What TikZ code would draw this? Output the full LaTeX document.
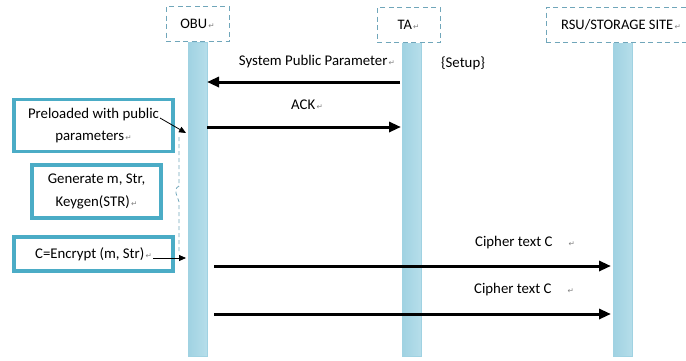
\documentclass[tikz,border=0pt]{standalone}
\usepackage{fontspec}
\setmainfont{Carlito}
\newfontfamily\symfont{DejaVu Sans}
\usetikzlibrary{arrows.meta}
\definecolor{aqua}{RGB}{75,172,198}
\definecolor{headline}{RGB}{112,166,186}
\definecolor{barleft}{RGB}{160,210,226}
\definecolor{barmid}{RGB}{232,245,249}
\definecolor{barright}{RGB}{182,222,234}
\newcommand{\retmark}{{\symfont\fontsize{7.5}{7.5}\selectfont\color{gray}\,↵}}
\tikzset{head/.style={draw=headline,dash pattern=on 5pt off 3.5pt,line width=1pt,
		fill=white,minimum height=35pt,font=\fontsize{14.5}{16}\selectfont},
	lifeline/.style={draw=barleft,line width=0.6pt,minimum width=19pt,minimum height=314pt,
		left color=barleft,middle color=barmid,right color=barright,inner sep=0pt},
	stepbox/.style={draw=aqua,line width=3.5pt,fill=white,align=center,
		font=\fontsize{14.8}{22.5}\selectfont},
	msg/.style={font=\fontsize{14.8}{17}\selectfont,inner sep=1pt}}

\begin{document}
\begin{tikzpicture}[x=1pt,y=-1pt]
		\useasboundingbox (0,0) rectangle (686,360);
		\begin{scope}[every node/.style={lifeline}]
			\node (obubar) at (197.5,199) {};
			\node (tabar) at (411.5,199) {};
			\node (rsubar) at (623,199) {};
		\end{scope}
		\begin{scope}[every node/.style={head}]
			\node[minimum width=63pt] (obu) at (197.5,24) {OBU\retmark};
			\node[minimum width=63pt] (ta) at (408.5,25) {TA\retmark};
			\node[minimum width=150pt] (rsu) at (621,25) {RSU/STORAGE SITE\retmark};
		\end{scope}
		\begin{scope}[every node/.style={stepbox}]
			\node[minimum width=159pt,minimum height=52pt] (pre) at (93.5,125.5)
				{Preloaded with public\\parameters\retmark};
			\node[minimum width=129pt,minimum height=53pt] (gen) at (96.5,191.5)
				{Generate m, Str,\\Keygen(STR)\retmark};
			\node[minimum width=159pt,minimum height=34pt] (enc) at (93.5,254)
				{C=Encrypt (m, Str)\retmark};
		\end{scope}
		% message labels
		\begin{scope}[every node/.style={msg}]
			\node (lspp) at (317,62) {System Public Parameter\retmark};
			\node (lsetup) at (463,63) {\{Setup\}};
			\node (lack) at (307,105) {ACK\retmark};
			\node (lct1) at (525,243) {Cipher text C\quad\retmark};
			\node (lct2) at (524,290) {Cipher text C\quad\retmark};
		\end{scope}
		% arrow ends
		\coordinate (spp-a) at (400,82);
		\coordinate (spp-b) at (207,82);
		\coordinate (ack-a) at (207,127);
		\coordinate (ack-b) at (401,127);
		\coordinate (ct1-a) at (214,266);
		\coordinate (ct1-b) at (611,266);
		\coordinate (ct2-a) at (214,314);
		\coordinate (ct2-b) at (611,314);
		\coordinate (pre-a) at (160,118);
		\coordinate (pre-b) at (186,133);
		\coordinate (enc-a) at (153,258);
		\coordinate (enc-b) at (186,258);
		\begin{scope}[>={Triangle[length=12pt,width=10pt]},
			every edge/.style={draw,line width=3pt}]
			\path [->] (spp-a) edge (spp-b);
			\path [->] (ack-a) edge (ack-b);
			\path [->] (ct1-a) edge (ct1-b);
			\path [->] (ct2-a) edge (ct2-b);
		\end{scope}
		\begin{scope}[>={Triangle[length=7pt,width=6pt]},
			every edge/.style={draw,line width=0.8pt}]
			\path [->] (pre-a) edge (pre-b);
			\path [->] (enc-a) edge (enc-b);
		\end{scope}
		\draw[headline,line width=0.8pt,dash pattern=on 4pt off 3pt]
			(179,137) -- (179,186) .. controls (172,190) and (178,196) .. (179,202) -- (179,254);
	\end{tikzpicture}
\end{document}
